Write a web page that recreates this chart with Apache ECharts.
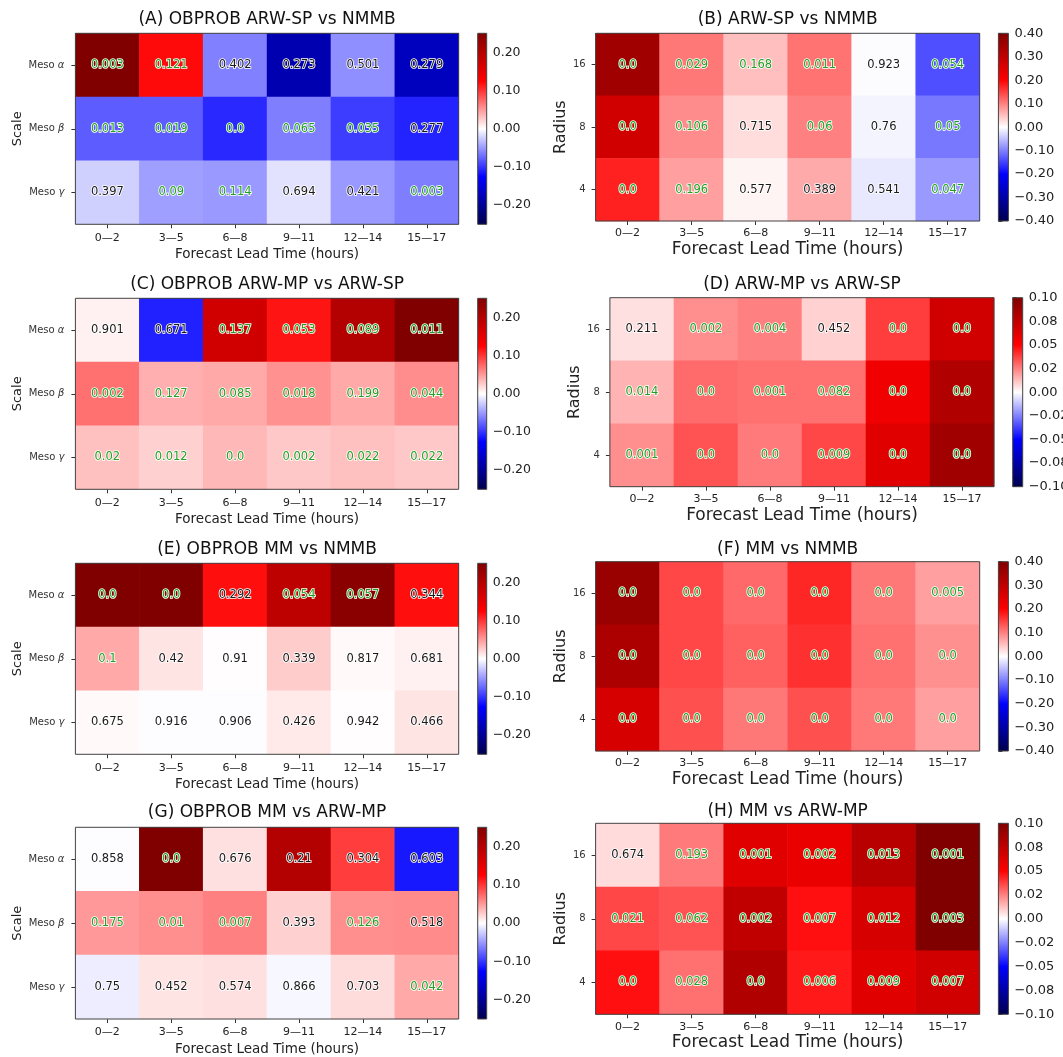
<!DOCTYPE html>
<html>
<head>
<meta charset="utf-8">
<title>OBPROB heatmaps</title>
<script src="https://cdn.jsdelivr.net/npm/echarts@6/dist/echarts.min.js"></script>
<style>
  html, body { margin: 0; padding: 0; background: #fff; }
  #chart { width: 1063px; height: 1057px; }
</style>
</head>
<body>
<div id="chart"></div>
<script>
const leadTimes = ['0—2', '3—5', '6—8', '9—11', '12—14', '15—17'];
const scales = ['Meso α', 'Meso β', 'Meso γ'];
const radii = ['16', '8', '4'];

// cell colour values (rows top to bottom) and p-values shown as text
const diffA = [
  [0.25, 0.12, -0.062, -0.18, -0.055, -0.17],
  [-0.08, -0.08, -0.105, -0.063, -0.095, -0.108],
  [-0.023, -0.047, -0.05, -0.014, -0.05, -0.063]
];
const pA = [
  [0.003, 0.121, 0.402, 0.273, 0.501, 0.279],
  [0.013, 0.019, 0.0, 0.065, 0.035, 0.277],
  [0.397, 0.09, 0.114, 0.694, 0.421, 0.003]
];
const diffB = [
  [0.35, 0.106, 0.05, 0.11, -0.002, -0.138],
  [0.272, 0.09, 0.027, 0.1, -0.009, -0.106],
  [0.175, 0.075, 0.009, 0.067, -0.018, -0.08]
];
const pB = [
  [0.0, 0.029, 0.168, 0.011, 0.923, 0.054],
  [0.0, 0.106, 0.715, 0.06, 0.76, 0.05],
  [0.0, 0.196, 0.577, 0.389, 0.541, 0.047]
];
const diffC = [
  [0.007, -0.109, 0.17, 0.115, 0.2, 0.25],
  [0.07, 0.039, 0.042, 0.054, 0.042, 0.056],
  [0.031, 0.023, 0.035, 0.027, 0.031, 0.027]
];
const pC = [
  [0.901, 0.671, 0.137, 0.053, 0.089, 0.011],
  [0.002, 0.127, 0.085, 0.018, 0.199, 0.044],
  [0.02, 0.012, 0.0, 0.002, 0.022, 0.022]
];
const diffD = [
  [0.006, 0.022, 0.025, 0.009, 0.038, 0.068],
  [0.015, 0.029, 0.028, 0.028, 0.056, 0.081],
  [0.022, 0.034, 0.026, 0.036, 0.062, 0.087]
];
const pD = [
  [0.211, 0.002, 0.004, 0.452, 0.0, 0.0],
  [0.014, 0.0, 0.001, 0.082, 0.0, 0.0],
  [0.001, 0.0, 0.0, 0.009, 0.0, 0.0]
];
const diffE = [
  [0.25, 0.25, 0.118, 0.19, 0.24, 0.118],
  [0.042, 0.013, 0.001, 0.025, 0.003, 0.007],
  [0.003, -0.001, -0.001, 0.011, 0.001, 0.013]
];
const pE = [
  [0.0, 0.0, 0.292, 0.054, 0.057, 0.344],
  [0.1, 0.42, 0.91, 0.339, 0.817, 0.681],
  [0.675, 0.916, 0.906, 0.426, 0.942, 0.466]
];
const diffF = [
  [0.36, 0.144, 0.118, 0.17, 0.106, 0.075],
  [0.33, 0.144, 0.125, 0.162, 0.112, 0.087],
  [0.265, 0.137, 0.106, 0.137, 0.105, 0.075]
];
const pF = [
  [0.0, 0.0, 0.0, 0.0, 0.0, 0.005],
  [0.0, 0.0, 0.0, 0.0, 0.0, 0.0],
  [0.0, 0.0, 0.0, 0.0, 0.0, 0.0]
];
const diffG = [
  [-0.001, 0.25, 0.015, 0.2, 0.095, -0.113],
  [0.05, 0.055, 0.0625, 0.023, 0.055, 0.057],
  [-0.009, 0.013, 0.015, -0.004, 0.017, 0.042]
];
const pG = [
  [0.858, 0.0, 0.676, 0.21, 0.304, 0.603],
  [0.175, 0.01, 0.007, 0.393, 0.126, 0.518],
  [0.75, 0.452, 0.574, 0.866, 0.703, 0.042]
];
const diffH = [
  [0.007, 0.026, 0.062, 0.058, 0.078, 0.1],
  [0.036, 0.034, 0.075, 0.047, 0.066, 0.1],
  [0.047, 0.028, 0.081, 0.045, 0.062, 0.068]
];
const pH = [
  [0.674, 0.193, 0.001, 0.002, 0.013, 0.001],
  [0.021, 0.062, 0.002, 0.007, 0.012, 0.003],
  [0.0, 0.028, 0.0, 0.006, 0.009, 0.007]
];

// colorbar scales
const obprobRange = [-0.25, 0.25];
const obprobTicks = [-0.2, -0.1, 0, 0.1, 0.2];
const obprobTickLabels = ['−0.20', '−0.10', '0.00', '0.10', '0.20'];
const wideRange = [-0.4, 0.4];
const wideTicks = [-0.4, -0.3, -0.2, -0.1, 0, 0.1, 0.2, 0.3, 0.4];
const wideTickLabels = ['−0.40', '−0.30', '−0.20', '−0.10', '0.00', '0.10', '0.20', '0.30', '0.40'];
const narrowRange = [-0.1, 0.1];
const narrowTicks = [-0.1, -0.075, -0.05, -0.025, 0, 0.025, 0.05, 0.075, 0.1];
const narrowTickLabels = ['−0.10', '−0.08', '−0.05', '−0.02', '0.00', '0.02', '0.05', '0.08', '0.10'];

const seismic = ['#00004c', '#0000ff', '#ffffff', '#ff0000', '#800000'];

const cbScales = {
  obprob: { range: obprobRange, ticks: obprobTicks, labels: obprobTickLabels, minor: 5, font: 12.5 },
  wide: { range: wideRange, ticks: wideTicks, labels: wideTickLabels, minor: 10, font: 13 },
  narrow: { range: narrowRange, ticks: narrowTicks, labels: narrowTickLabels, minor: 5, font: 13 }
};

const FONT = 'DejaVu Sans';
const LEFT = { rows: scales, yName: 'Scale', yNameGap: 50, yNameSize: 13, yLabelSize: 10, yLabelMargin: 11, xNameSize: 13.5, xNameGap: 23, xLabelMargin: 8 };
const RIGHT = { rows: radii, yName: 'Radius', yNameGap: 23, yNameSize: 16, yLabelSize: 10, yLabelMargin: 10, xNameSize: 17, xNameGap: 20, xLabelMargin: 7 };

const panels = [
  { title: '(A) OBPROB ARW-SP vs NMMB', side: LEFT, diff: diffA, p: pA, cb: 'obprob', box: [75.4, 33.3, 383.3, 191], cbX: 477.7, cbW: 9, titleTop: 11 },
  { title: '(B) ARW-SP vs NMMB', side: RIGHT, diff: diffB, p: pB, cb: 'wide', box: [595.6, 33.3, 384.1, 187.7], cbX: 998.4, cbW: 10, titleTop: 11.5 },
  { title: '(C) OBPROB ARW-MP vs ARW-SP', side: LEFT, diff: diffC, p: pC, cb: 'obprob', box: [75.4, 298.3, 383.3, 191], cbX: 477.7, cbW: 9, titleTop: 276 },
  { title: '(D) ARW-MP vs ARW-SP', side: RIGHT, diff: diffD, p: pD, cb: 'narrow', box: [609.9, 297.7, 384.1, 189], cbX: 1012.7, cbW: 10, titleTop: 276 },
  { title: '(E) OBPROB MM vs NMMB', side: LEFT, diff: diffE, p: pE, cb: 'obprob', box: [75.4, 563.3, 383.3, 191], cbX: 477.7, cbW: 9, titleTop: 541 },
  { title: '(F) MM vs NMMB', side: RIGHT, diff: diffF, p: pF, cb: 'wide', box: [595.6, 561.7, 384.1, 189.3], cbX: 998.4, cbW: 10, titleTop: 541 },
  { title: '(G) OBPROB MM vs ARW-MP', side: LEFT, diff: diffG, p: pG, cb: 'obprob', box: [75.4, 827.3, 383.3, 191.7], cbX: 477.7, cbW: 9, titleTop: 804 },
  { title: '(H) MM vs ARW-MP', side: RIGHT, diff: diffH, p: pH, cb: 'narrow', box: [595.6, 823.3, 384.1, 191], cbX: 998.4, cbW: 10, titleTop: 803 }
];

function pText(p) {
  return Number.isInteger(p) ? p.toFixed(1) : String(p);
}

function renderColorbar(params, api) {
  const top = api.coord([0, api.value(2)]);
  const bottom = api.coord([1, api.value(1)]);
  return {
    type: 'rect',
    shape: { x: top[0], y: top[1], width: bottom[0] - top[0], height: bottom[1] - top[1] },
    style: {
      fill: new echarts.graphic.LinearGradient(0, 1, 0, 0,
        seismic.map((c, i) => ({ offset: i / (seismic.length - 1), color: c }))),
      stroke: '#444',
      lineWidth: 1
    }
  };
}

const option = {
  animation: false,
  textStyle: { fontFamily: FONT },
  title: [], grid: [], xAxis: [], yAxis: [], visualMap: [], series: [], graphic: []
};

const labelStroke = { textBorderColor: '#fff', textBorderWidth: 1.6, fontSize: 11.5, fontFamily: FONT };

panels.forEach((pn, k) => {
  const s = pn.side;
  const sc = cbScales[pn.cb];
  const [x, y, w, h] = pn.box;
  const g = k * 2;

  option.title.push({
    text: pn.title, left: x + w / 2, top: pn.titleTop, textAlign: 'center', padding: 0,
    textStyle: { fontSize: 17, fontWeight: 'normal', color: '#111', fontFamily: FONT }
  });

  option.grid.push({ left: x, top: y, width: w, height: h, outerBoundsMode: 'none' });
  option.grid.push({ left: pn.cbX, top: y, width: pn.cbW, height: h, outerBoundsMode: 'none' });

  option.xAxis.push({
    type: 'category', gridIndex: g, data: leadTimes,
    name: 'Forecast Lead Time (hours)', nameLocation: 'middle', nameGap: s.xNameGap,
    nameTextStyle: { fontSize: s.xNameSize, color: '#222', fontFamily: FONT },
    axisLine: { show: false },
    axisTick: { show: true, alignWithLabel: true, length: 4, lineStyle: { color: '#333' } },
    axisLabel: { fontSize: 11, color: '#222', margin: s.xLabelMargin, interval: 0 },
    splitLine: { show: false }
  });
  option.yAxis.push({
    type: 'category', gridIndex: g, data: s.rows, inverse: true,
    name: s.yName, nameLocation: 'middle', nameGap: s.yNameGap,
    nameTextStyle: { fontSize: s.yNameSize, color: '#222', fontFamily: FONT },
    axisLine: { show: false },
    axisTick: { show: true, alignWithLabel: true, length: 4, lineStyle: { color: '#333' } },
    axisLabel: {
      fontSize: s.yLabelSize, color: '#333', margin: s.yLabelMargin,
      formatter: (v) => v.startsWith('Meso ') ? 'Meso {i|' + v.slice(5) + '}' : v,
      rich: { i: { fontStyle: 'italic', fontSize: s.yLabelSize, color: '#333' } }
    },
    splitLine: { show: false }
  });

  // colorbar axes
  option.xAxis.push({ type: 'value', gridIndex: g + 1, min: 0, max: 1, show: false });
  const cbAxis = {
    type: 'value', gridIndex: g + 1, position: 'right', min: sc.range[0], max: sc.range[1],
    axisLine: { show: false },
    splitLine: { show: false },
    axisTick: { show: true, length: 4, customValues: sc.ticks, lineStyle: { color: '#333' } },
    minorTick: { show: true, splitNumber: sc.minor, length: 2, lineStyle: { color: '#555' } },
    axisLabel: {
      fontSize: sc.font, color: '#222', margin: 6, customValues: sc.ticks,
      formatter: (v) => {
        const i = sc.ticks.findIndex(t => Math.abs(t - v) < 1e-9);
        return i < 0 ? '' : sc.labels[i];
      }
    }
  };
  if (pn.cb === 'obprob') cbAxis.splitNumber = 5;
  else cbAxis.interval = sc.ticks[1] - sc.ticks[0];
  option.yAxis.push(cbAxis);

  const data = [];
  pn.diff.forEach((row, r) => row.forEach((v, c) => data.push([c, r, v, pn.p[r][c]])));

  const sIdx = option.series.length;
  option.series.push({
    type: 'heatmap', xAxisIndex: g, yAxisIndex: g, data: data,
    itemStyle: { borderWidth: 0 },
    emphasis: { disabled: true },
    label: {
      show: true,
      formatter: (d) => (d.value[3] < 0.2 ? '{g|' : '{k|') + pText(d.value[3]) + '}',
      rich: {
        g: Object.assign({ color: '#22a022' }, labelStroke),
        k: Object.assign({ color: '#1a1a1a' }, labelStroke)
      }
    }
  });
  option.visualMap.push({
    type: 'continuous', show: false, seriesIndex: sIdx, dimension: 2,
    min: sc.range[0], max: sc.range[1], inRange: { color: seismic }
  });
  option.series.push({
    type: 'custom', xAxisIndex: g + 1, yAxisIndex: g + 1,
    data: [[0, sc.range[0], sc.range[1]]],
    encode: { x: 0, y: [1, 2] },
    renderItem: renderColorbar,
    silent: true
  });

  option.graphic.push({
    type: 'rect', silent: true, z: 100,
    shape: { x: x, y: y, width: w, height: h },
    style: { fill: null, stroke: '#444', lineWidth: 1 }
  });
});

const chart = echarts.init(document.getElementById('chart'));
chart.setOption(option);
</script>
</body>
</html>
